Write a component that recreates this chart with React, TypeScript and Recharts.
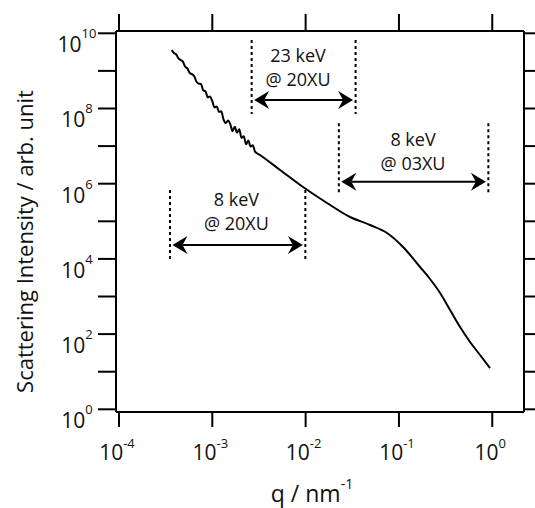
import React from 'react';
import { ComposedChart, Line, XAxis, YAxis, ReferenceLine, ReferenceDot } from 'recharts';

// ---- measured curve (q in nm^-1, intensity in arb. unit) ----
const qNoisy = [
  3.67e-4, 3.88e-4, 4.10e-4, 4.34e-4, 4.59e-4, 4.85e-4, 5.13e-4, 5.42e-4, 5.73e-4, 6.05e-4,
  6.40e-4, 6.78e-4, 7.16e-4, 7.57e-4, 8.00e-4, 8.45e-4, 8.93e-4, 9.44e-4, 1.00e-3, 1.057e-3,
  1.117e-3, 1.18e-3, 1.247e-3, 1.318e-3, 1.393e-3, 1.476e-3, 1.56e-3, 1.648e-3, 1.742e-3, 1.841e-3,
  1.945e-3, 2.056e-3, 2.173e-3, 2.301e-3, 2.432e-3, 2.57e-3, 2.716e-3, 2.871e-3,
];
const iNoisy = [
  3.6e9, 3.0e9, 2.75e9, 2.14e9, 1.95e9, 1.74e9, 1.29e9, 1.15e9, 8.75e8, 8.18e8,
  7.18e8, 5.15e8, 4.59e8, 4.48e8, 3.03e8, 2.87e8, 1.97e8, 2.09e8, 1.56e8, 1.07e8,
  1.13e8, 8.11e7, 8.41e7, 5.15e7, 4.09e7, 4.79e7, 3.8e7, 2.49e7, 3.29e7, 2.28e7,
  2.81e7, 1.65e7, 1.82e7, 1.12e7, 1.41e7, 9.75e6, 1.05e7, 7.1e6,
];
const qSmooth = [
  3.243e-3, 5.321e-3, 9.376e-3, 1.694e-2, 2.992e-2, 4.898e-2, 7.447e-2,
  1.107e-1, 1.683e-1, 2.153e-1, 2.761e-1, 3.532e-1, 4.519e-1, 5.781e-1, 7.396e-1, 9.462e-1,
];
const iSmooth = [
  5.794e6, 2.312e6, 8.166e5, 3.069e5, 1.3e5, 7.98e4, 4.887e4,
  2.075e4, 6.095e3, 2.92e3, 1.24e3, 437.5, 154.5, 61.7, 27.8, 12.53,
];

// ---- axes ----
const xTicks = [1e-4, 1e-3, 1e-2, 1e-1, 1];
const yTicks = [1, 1e1, 1e2, 1e3, 1e4, 1e5, 1e6, 1e7, 1e8, 1e9, 1e10];
const xDomain = [9.29e-5, 2.188];
const yDomain = [0.848, 1.151e10];

// ---- q-range annotations ----
const bandLabels = [
  ['23 keV', '@ 20XU'],
  ['8 keV', '@ 03XU'],
  ['8 keV', '@ 20XU'],
];
const bandQmin = [2.64e-3, 2.27e-2, 3.52e-4];
const bandQmax = [3.43e-2, 0.908, 9.93e-3];
const bandLineTop = [6.64e9, 4.04e7, 6.8e5];
const bandLineBottom = [7.14e7, 5.0e5, 8.43e3];
const bandArrowI = [1.68e8, 1.13e6, 2.34e4];
const bandLabelQ = [8.3e-3, 0.1416, 1.81e-3];
const bandLabelI = [1.73e9, 1.01e7, 2.55e5];

const data = [
  ...qNoisy.map((q, i) => ({ q, I: iNoisy[i] })),
  ...qSmooth.map((q, i) => ({ q, I: iSmooth[i] })),
];

const FONT = "'Open Sans', 'Noto Sans', sans-serif";
const INK = '#111';

const expOf = (v: number) => Math.round(Math.log10(v));

const YTick = (props: any) => {
  const { x, y, payload } = props;
  const e = expOf(payload.value);
  if (e % 2 !== 0) return <g />;
  return (
    <text x={x - 21} y={y + 19} textAnchor="middle" fontFamily={FONT} fontSize={21} fill={INK}>
      10
      <tspan fontSize={13} dy={-14}>
        {e}
      </tspan>
    </text>
  );
};

const XTick = (props: any) => {
  const { x, y, payload } = props;
  const e = expOf(payload.value);
  return (
    <text x={x - 2} y={y + 33} textAnchor="middle" fontFamily={FONT} fontSize={21} fill={INK}>
      10
      <tspan fontSize={13} dy={-12}>
        {e}
      </tspan>
    </text>
  );
};

const NoTick = () => <g />;

const XTitle = (props: any) => {
  const vb = props.viewBox || { x: 116, y: 412, width: 408, height: 96 };
  return (
    <text
      x={vb.x + vb.width / 2 - 8}
      y={vb.y + 90}
      textAnchor="middle"
      fontFamily={FONT}
      fontSize={23}
      fill={INK}
    >
      q / nm
      <tspan fontSize={14} dy={-13}>
        -1
      </tspan>
    </text>
  );
};

const YTitle = (props: any) => {
  const vb = props.viewBox || { x: 56, y: 31, width: 60, height: 381 };
  const cx = vb.x - 23;
  const cy = vb.y + vb.height / 2 + 20;
  return (
    <text
      x={cx}
      y={cy}
      transform={`rotate(-90, ${cx}, ${cy})`}
      textAnchor="middle"
      fontFamily={FONT}
      fontSize={22}
      fill={INK}
    >
      Scattering Intensity / arb. unit
    </text>
  );
};

const DoubleArrow = (props: any) => {
  const { x1, y1, x2 } = props;
  const inset = 2.5;
  const L = 15;
  const W = 9;
  const notch = 10;
  const lx = Math.min(x1, x2) + inset;
  const rx = Math.max(x1, x2) - inset;
  const y = y1;
  return (
    <g>
      <line x1={lx + notch} y1={y} x2={rx - notch} y2={y} stroke="#000" strokeWidth={2} />
      <path d={`M${lx},${y} L${lx + L},${y - W} L${lx + notch},${y} L${lx + L},${y + W} Z`} fill="#000" />
      <path d={`M${rx},${y} L${rx - L},${y - W} L${rx - notch},${y} L${rx - L},${y + W} Z`} fill="#000" />
    </g>
  );
};

const makeLabel = (lines: string[]) => (p: any) => (
  <text x={p.cx} y={p.cy} textAnchor="middle" fontFamily={FONT} fontSize={18} fill={INK}>
    <tspan x={p.cx} dy={0}>
      {lines[0]}
    </tspan>
    <tspan x={p.cx} dy={24}>
      {lines[1]}
    </tspan>
  </text>
);

export default function App() {
  return (
    <div style={{ position: 'absolute', left: 0, top: 0, width: 535, height: 508, background: '#fff' }}>
      <ComposedChart
        width={535}
        height={508}
        data={data}
        margin={{ top: 14, right: 0, bottom: 0, left: 56 }}
      >
        <XAxis
          xAxisId="b"
          dataKey="q"
          type="number"
          scale="log"
          domain={xDomain}
          allowDataOverflow
          ticks={xTicks}
          orientation="bottom"
          height={96}
          tickSize={15}
          tickMargin={0}
          tick={<XTick />}
          axisLine={{ stroke: '#000', strokeWidth: 2 }}
          tickLine={{ stroke: '#000', strokeWidth: 2 }}
          interval={0}
          label={<XTitle />}
        />
        <XAxis
          xAxisId="t"
          dataKey="q"
          type="number"
          scale="log"
          domain={xDomain}
          allowDataOverflow
          ticks={xTicks}
          orientation="top"
          height={17}
          tickSize={17}
          tickMargin={0}
          tick={<NoTick />}
          axisLine={{ stroke: '#000', strokeWidth: 2 }}
          tickLine={{ stroke: '#000', strokeWidth: 2 }}
          interval={0}
        />
        <YAxis
          yAxisId="l"
          dataKey="I"
          type="number"
          scale="log"
          domain={yDomain}
          allowDataOverflow
          ticks={yTicks}
          orientation="left"
          width={60}
          tickSize={18}
          tickMargin={0}
          tick={<YTick />}
          axisLine={{ stroke: '#000', strokeWidth: 2 }}
          tickLine={{ stroke: '#000', strokeWidth: 2 }}
          interval={0}
          label={<YTitle />}
        />
        <YAxis
          yAxisId="r"
          dataKey="I"
          type="number"
          scale="log"
          domain={yDomain}
          allowDataOverflow
          ticks={yTicks}
          orientation="right"
          width={11}
          tickSize={11}
          tickMargin={0}
          tick={<NoTick />}
          axisLine={{ stroke: '#000', strokeWidth: 2 }}
          tickLine={{ stroke: '#000', strokeWidth: 2 }}
          interval={0}
        />
        <Line
          xAxisId="t"
          yAxisId="r"
          dataKey="I"
          stroke="none"
          dot={false}
          activeDot={false}
          isAnimationActive={false}
        />
        <Line
          xAxisId="b"
          yAxisId="l"
          dataKey="I"
          type="monotone"
          stroke="#000"
          strokeWidth={2}
          dot={false}
          activeDot={false}
          isAnimationActive={false}
        />
        {bandLabels.map((lines, i) => (
          <ReferenceLine
            key={`l${i}`}
            xAxisId="b"
            yAxisId="l"
            segment={[
              { x: bandQmin[i], y: bandLineTop[i] },
              { x: bandQmin[i], y: bandLineBottom[i] },
            ]}
            stroke="#000"
            strokeWidth={2}
            strokeDasharray="3 3"
            ifOverflow="visible"
          />
        ))}
        {bandLabels.map((lines, i) => (
          <ReferenceLine
            key={`r${i}`}
            xAxisId="b"
            yAxisId="l"
            segment={[
              { x: bandQmax[i], y: bandLineTop[i] },
              { x: bandQmax[i], y: bandLineBottom[i] },
            ]}
            stroke="#000"
            strokeWidth={2}
            strokeDasharray="3 3"
            ifOverflow="visible"
          />
        ))}
        {bandLabels.map((lines, i) => (
          <ReferenceLine
            key={`a${i}`}
            xAxisId="b"
            yAxisId="l"
            segment={[
              { x: bandQmin[i], y: bandArrowI[i] },
              { x: bandQmax[i], y: bandArrowI[i] },
            ]}
            stroke="#000"
            strokeWidth={2}
            ifOverflow="visible"
            shape={DoubleArrow}
          />
        ))}
        {bandLabels.map((lines, i) => (
          <ReferenceDot
            key={`t${i}`}
            xAxisId="b"
            yAxisId="l"
            x={bandLabelQ[i]}
            y={bandLabelI[i]}
            r={0}
            ifOverflow="visible"
            shape={makeLabel(lines)}
          />
        ))}
      </ComposedChart>
    </div>
  );
}
